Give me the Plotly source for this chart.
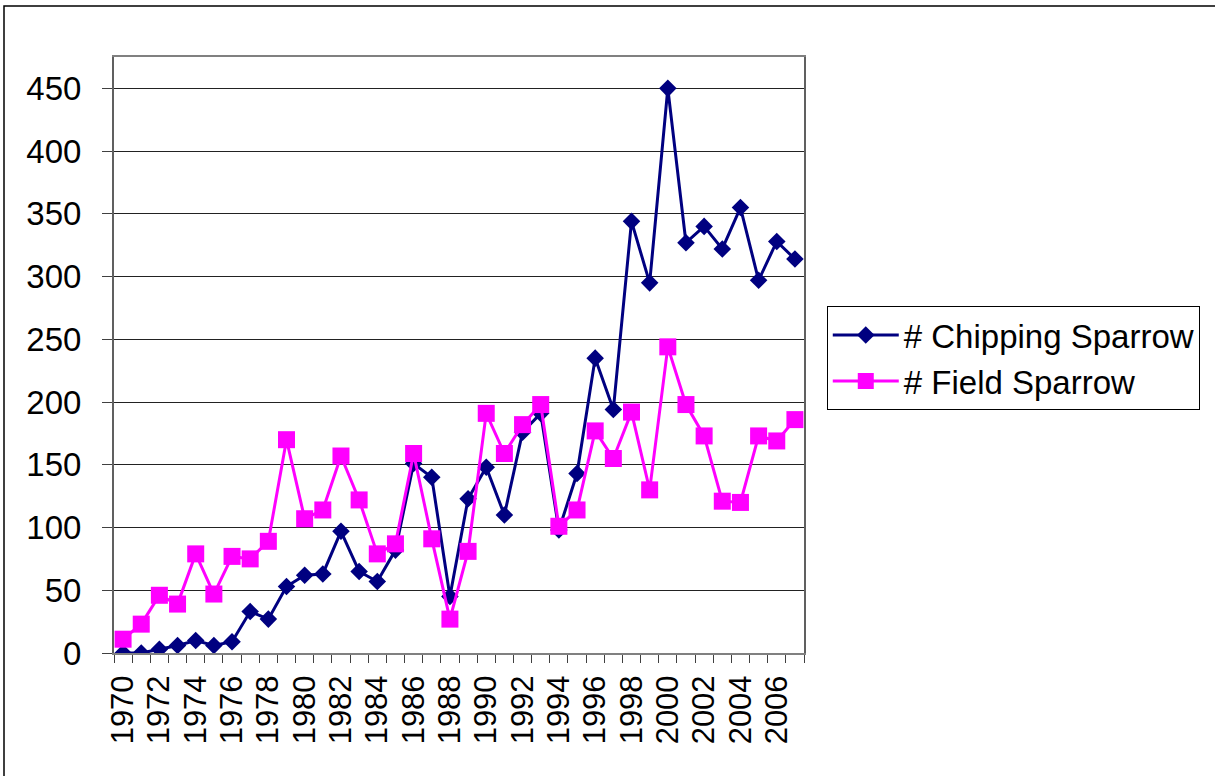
import plotly.graph_objects as go

years = list(range(1970, 2008))

chipping = [0, 0, 3, 6, 10, 6, 9, 33, 27, 53, 62, 63, 97, 65, 57, 82, 151, 140, 45,
            123, 148, 110, 176, 191, 98, 143, 235, 194, 344, 295, 450, 327, 340,
            322, 355, 297, 328, 314]

field = [11, 23, 46, 39, 79, 47, 77, 75, 89, 170, 107, 114, 157, 122, 79, 87, 159,
         91, 27, 81, 191, 159, 182, 198, 101, 114, 177, 155, 192, 130, 244, 198,
         173, 121, 120, 173, 169, 186]

label_years = list(range(1970, 2007, 2))

FONT = 'Liberation Sans, Arial, sans-serif'

fig = go.Figure()

fig.add_trace(go.Scatter(x=years, y=chipping, name='# Chipping Sparrow', mode='lines+markers',
                         line=dict(color='#000080', width=3),
                         marker=dict(symbol='diamond', size=13.5, color='#000080', line=dict(width=0))))

fig.add_trace(go.Scatter(x=years, y=field, name='# Field Sparrow', mode='lines+markers',
                         line=dict(color='#FF00FF', width=3),
                         marker=dict(symbol='square', size=17, color='#FF00FF', line=dict(width=0))))

fig.update_layout(
    width=1215, height=776,
    margin=dict(l=114, r=411, t=57, b=123),
    plot_bgcolor='white', paper_bgcolor='white',
    font=dict(family=FONT, size=33, color='black'),
    legend=dict(x=1.033, y=0.582, xanchor='left', yanchor='top',
                bordercolor='black', borderwidth=1, font=dict(size=33),
                itemwidth=66, tracegroupgap=0),
    showlegend=True,
)

fig.update_xaxes(range=[1969.5, 2007.5], tickmode='array', tickvals=label_years,
                 ticktext=[str(y) for y in label_years], tickangle=-90, ticks='',
                 tickfont=dict(size=31),
                 showgrid=False, zeroline=False,
                 showline=True, linecolor='#808080', linewidth=2, mirror=True,
                 ticklabelstandoff=8,
                 minor=dict(ticks='outside', ticklen=8, tick0=1969.5, dtick=1,
                            tickcolor='#404040', showgrid=False))

fig.update_yaxes(range=[0, 475], dtick=50, tick0=0, ticks='outside', ticklen=10,
                 tickfont=dict(size=33),
                 tickcolor='#404040', showgrid=True, gridcolor='#222222', gridwidth=1,
                 zeroline=False, showline=True, linecolor='#606060', linewidth=2, mirror=True,
                 ticklabelstandoff=14)

# outer chart border
fig.add_shape(type='rect', xref='paper', yref='paper',
              x0=(4 - 114) / 690, x1=1.8, y0=-0.6, y1=(653 - 6) / 596,
              line=dict(color='black', width=1.5), fillcolor='rgba(0,0,0,0)')

# page has no body margin in the reference
fig.write_html("out.html", config={'displayModeBar': False},
               post_script="document.body.style.margin='0';")
